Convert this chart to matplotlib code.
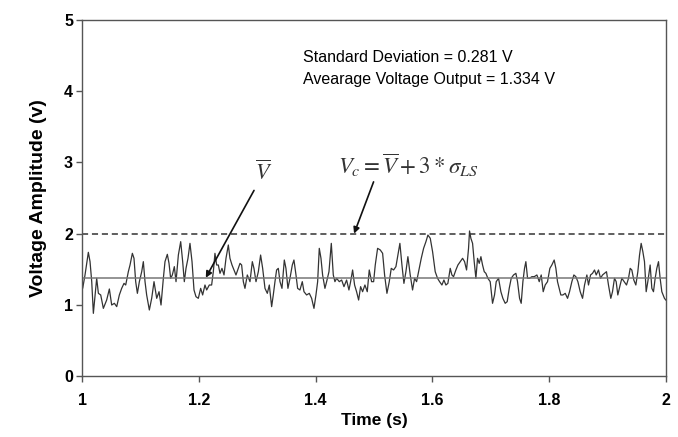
import matplotlib
matplotlib.use("Agg")
import matplotlib.pyplot as plt

# ---- data ----
time_s = [
    1.0000, 1.0011, 1.0051, 1.0108, 1.0137, 1.0166, 1.0194, 1.0223, 1.0251, 1.0280,
    1.0320, 1.0365, 1.0422, 1.0468, 1.0508, 1.0554, 1.0594, 1.0639, 1.0679, 1.0719,
    1.0748, 1.0793, 1.0822, 1.0862, 1.0890, 1.0919, 1.0948, 1.0982, 1.1022, 1.1050,
    1.1079, 1.1107, 1.1153, 1.1193, 1.1233, 1.1279, 1.1319, 1.1353, 1.1393, 1.1421,
    1.1461, 1.1490, 1.1518, 1.1547, 1.1581, 1.1610, 1.1650, 1.1690, 1.1724, 1.1752,
    1.1781, 1.1815, 1.1849, 1.1884, 1.1918, 1.1952, 1.1992, 1.2032, 1.2066, 1.2106,
    1.2135, 1.2180, 1.2220, 1.2249, 1.2277, 1.2306, 1.2335, 1.2363, 1.2397, 1.2432,
    1.2466, 1.2506, 1.2534, 1.2569, 1.2603, 1.2637, 1.2677, 1.2706, 1.2734, 1.2763,
    1.2791, 1.2831, 1.2877, 1.2917, 1.2945, 1.2980, 1.3020, 1.3059, 1.3094, 1.3134,
    1.3174, 1.3208, 1.3248, 1.3276, 1.3305, 1.3333, 1.3362, 1.3391, 1.3425, 1.3465,
    1.3493, 1.3527, 1.3562, 1.3602, 1.3630, 1.3665, 1.3693, 1.3733, 1.3773, 1.3802,
    1.3847, 1.3893, 1.3933, 1.3973, 1.4007, 1.4036, 1.4064, 1.4093, 1.4121, 1.4161,
    1.4190, 1.4230, 1.4270, 1.4304, 1.4332, 1.4361, 1.4407, 1.4447, 1.4487, 1.4532,
    1.4572, 1.4601, 1.4635, 1.4669, 1.4703, 1.4738, 1.4772, 1.4806, 1.4846, 1.4886,
    1.4920, 1.4960, 1.4995, 1.5023, 1.5063, 1.5109, 1.5149, 1.5183, 1.5223, 1.5263,
    1.5297, 1.5337, 1.5377, 1.5411, 1.5445, 1.5480, 1.5514, 1.5548, 1.5582, 1.5622,
    1.5662, 1.5697, 1.5731, 1.5765, 1.5811, 1.5851, 1.5891, 1.5925, 1.5965, 1.6005,
    1.6050, 1.6090, 1.6125, 1.6165, 1.6199, 1.6233, 1.6267, 1.6307, 1.6336, 1.6364,
    1.6404, 1.6439, 1.6479, 1.6519, 1.6553, 1.6587, 1.6621, 1.6638, 1.6661, 1.6690,
    1.6718, 1.6747, 1.6775, 1.6804, 1.6833, 1.6861, 1.6890, 1.6918, 1.6952, 1.6992,
    1.7032, 1.7066, 1.7095, 1.7135, 1.7175, 1.7209, 1.7249, 1.7283, 1.7318, 1.7352,
    1.7392, 1.7432, 1.7460, 1.7495, 1.7523, 1.7552, 1.7580, 1.7603, 1.7632, 1.7666,
    1.7706, 1.7746, 1.7792, 1.7832, 1.7866, 1.7900, 1.7934, 1.7974, 1.8014, 1.8048,
    1.8088, 1.8117, 1.8145, 1.8174, 1.8202, 1.8237, 1.8277, 1.8317, 1.8351, 1.8391,
    1.8425, 1.8459, 1.8494, 1.8534, 1.8574, 1.8608, 1.8648, 1.8676, 1.8711, 1.8745,
    1.8779, 1.8808, 1.8847, 1.8882, 1.8916, 1.8950, 1.8984, 1.9018, 1.9058, 1.9087,
    1.9121, 1.9150, 1.9178, 1.9218, 1.9247, 1.9287, 1.9327, 1.9361, 1.9390, 1.9418,
    1.9452, 1.9487, 1.9521, 1.9550, 1.9578, 1.9607, 1.9635, 1.9664, 1.9692, 1.9732,
    1.9761, 1.9789, 1.9818, 1.9846, 1.9875, 1.9903, 1.9932, 1.9977, 2.0000,
]
voltage_v = [
    1.372, 1.231, 1.419, 1.737, 1.606, 1.325, 0.880, 1.138, 1.372, 1.161,
    1.138, 0.950, 1.067, 1.222, 0.997, 1.021, 0.974, 1.138, 1.231, 1.301,
    1.278, 1.465, 1.559, 1.723, 1.653, 1.325, 1.161, 1.325, 1.465, 1.606,
    1.325, 1.138, 0.927, 1.091, 1.325, 1.091, 1.184, 0.997, 1.372, 1.606,
    1.709, 1.582, 1.372, 1.419, 1.536, 1.325, 1.699, 1.887, 1.606, 1.325,
    1.512, 1.653, 1.863, 1.606, 1.208, 1.114, 1.091, 1.231, 1.138, 1.278,
    1.208, 1.278, 1.278, 1.465, 1.723, 1.559, 1.559, 1.442, 1.512, 1.419,
    1.653, 1.840, 1.653, 1.559, 1.489, 1.419, 1.512, 1.582, 1.559, 1.325,
    1.231, 1.419, 1.325, 1.606, 1.512, 1.325, 1.465, 1.699, 1.512, 1.231,
    1.161, 1.278, 0.974, 1.138, 1.325, 1.489, 1.512, 1.325, 1.231, 1.629,
    1.512, 1.231, 1.372, 1.559, 1.629, 1.419, 1.231, 1.208, 1.325, 1.184,
    1.138, 1.161, 1.091, 0.950, 1.138, 1.325, 1.793, 1.653, 1.419, 1.231,
    1.325, 1.465, 1.863, 1.419, 1.325, 1.372, 1.325, 1.348, 1.255, 1.348,
    1.208, 1.325, 1.489, 1.278, 1.184, 1.067, 1.255, 1.184, 1.278, 1.184,
    1.489, 1.325, 1.325, 1.559, 1.793, 1.770, 1.723, 1.419, 1.161, 1.325,
    1.512, 1.489, 1.536, 1.699, 1.863, 1.559, 1.301, 1.465, 1.676, 1.419,
    1.208, 1.372, 1.325, 1.465, 1.653, 1.793, 1.887, 1.980, 1.934, 1.746,
    1.465, 1.372, 1.325, 1.278, 1.348, 1.278, 1.301, 1.512, 1.419, 1.395,
    1.489, 1.559, 1.606, 1.653, 1.606, 1.489, 1.793, 2.037, 1.934, 1.863,
    1.606, 1.372, 1.653, 1.582, 1.676, 1.559, 1.465, 1.442, 1.372, 1.325,
    1.021, 1.138, 1.325, 1.372, 1.184, 1.091, 1.021, 1.044, 1.231, 1.372,
    1.419, 1.442, 1.325, 1.091, 1.021, 1.325, 1.512, 1.606, 1.372, 1.372,
    1.395, 1.395, 1.419, 1.325, 1.419, 1.184, 1.278, 1.325, 1.512, 1.559,
    1.629, 1.512, 1.325, 1.231, 1.138, 1.138, 1.161, 1.091, 1.184, 1.325,
    1.419, 1.395, 1.325, 1.184, 1.091, 1.278, 1.419, 1.278, 1.419, 1.442,
    1.489, 1.419, 1.489, 1.372, 1.419, 1.442, 1.465, 1.278, 1.091, 1.184,
    1.372, 1.325, 1.138, 1.278, 1.372, 1.325, 1.278, 1.372, 1.512, 1.489,
    1.348, 1.278, 1.465, 1.699, 1.863, 1.746, 1.606, 1.184, 1.325, 1.559,
    1.231, 1.184, 1.372, 1.512, 1.606, 1.372, 1.184, 1.091, 1.067,
]
mean_level = 1.38        # drawn solid line (V-bar)
critical_level = 2.0     # dashed line Vc
std_dev = 0.281
avg_output = 1.334

x_ticks = [1, 1.2, 1.4, 1.6, 1.8, 2]
x_tick_labels = ["1", "1.2", "1.4", "1.6", "1.8", "2"]
y_ticks = [0, 1, 2, 3, 4, 5]

plt.rcParams['font.family'] = ['Liberation Sans', 'DejaVu Sans']
plt.rcParams['mathtext.fontset'] = 'stix'

fig = plt.figure(figsize=(6.78, 4.37), dpi=100)
ax = fig.add_axes([0.121, 0.1396, 0.861, 0.8146])

ax.plot(time_s, voltage_v, color='#333333', lw=0.9)
ax.axhline(mean_level, color='#777777', lw=1.1)
ax.axhline(critical_level, color='#333333', lw=1.1, ls=(0, (4, 2.5)))

ax.set_xlim(1, 2)
ax.set_ylim(0, 5)
ax.set_xticks(x_ticks)
ax.set_xticklabels(x_tick_labels)
ax.set_yticks(y_ticks)

for s in ax.spines.values():
    s.set_color('#555555')
    s.set_linewidth(1.0)

ax.tick_params(direction='out', length=4.5, width=1, color='#555555',
               labelsize=11.5)
ax.tick_params(axis='x', pad=8)
ax.tick_params(axis='y', pad=2)
for lab in ax.get_xticklabels() + ax.get_yticklabels():
    lab.set_fontweight('bold')

ax.set_xlabel('Time (s)', fontsize=12.5, fontweight='bold', labelpad=3)
ax.set_ylabel('Voltage Amplitude (v)', fontsize=14, fontweight='bold', labelpad=12)

ax.text(1.379, 4.47, f"Standard Deviation = {std_dev:.3f} V", fontsize=11.5,
        va='center', ha='left')
ax.text(1.379, 4.17, f"Avearage Voltage Output = {avg_output:.3f} V", fontsize=11.5,
        va='center', ha='left')

ax.annotate(r'$\overline{V}$', xy=(1.212, mean_level), xytext=(1.311, 2.85),
            fontsize=16, color='#333333', ha='center', va='center',
            arrowprops=dict(arrowstyle='-|>', color='#111111', lw=1.2,
                            shrinkA=2, shrinkB=0, mutation_scale=9))
ax.annotate(r'$V_c = \overline{V} + 3 * \sigma_{LS}$', xy=(1.466, critical_level),
            xytext=(1.438, 2.96), fontsize=16.5, color='#333333', ha='left', va='center',
            arrowprops=dict(arrowstyle='-|>', color='#111111', lw=1.2,
                            shrinkA=0, shrinkB=0, mutation_scale=9,
                            relpos=(0.27, 0.1)))

fig.savefig('out.png', dpi=100)
